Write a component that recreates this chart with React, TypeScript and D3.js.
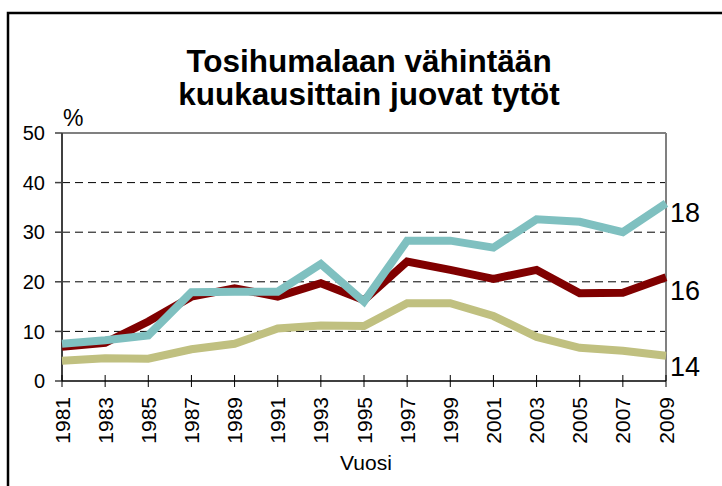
import React from "react";
import * as d3 from "d3";

const years = [1981, 1983, 1985, 1987, 1989, 1991, 1993, 1995, 1997, 1999, 2001, 2003, 2005, 2007, 2009];
const seriesRed = [6.9, 7.7, 12.0, 17.0, 18.7, 17.0, 19.7, 16.3, 24.1, 22.4, 20.6, 22.4, 17.7, 17.8, 20.9];
const seriesTeal = [7.5, 8.2, 9.2, 17.9, 18.0, 18.0, 23.6, 16.0, 28.3, 28.3, 26.9, 32.6, 32.1, 30.0, 35.8];
const seriesKhaki = [4.1, 4.6, 4.5, 6.4, 7.5, 10.6, 11.2, 11.1, 15.7, 15.7, 13.1, 8.9, 6.7, 6.1, 5.1];
const yTicks = [0, 10, 20, 30, 40, 50];
const gridTicks = [10, 20, 30, 40];
const rightLabels = [
  { text: "18", value: 34.0 },
  { text: "16", value: 18.3 },
  { text: "14", value: 2.9 },
];
const titleLines = ["Tosihumalaan vähintään", "kuukausittain juovat tytöt"];

export default function App() {
  const W = 722, H = 486;
  const left = 62, right = 666, top = 133, bottom = 381;
  const x = d3.scaleLinear().domain([1981, 2009]).range([left, right]);
  const y = d3.scaleLinear().domain([0, 50]).range([bottom, top]);
  const line = d3
    .line<number>()
    .x((_, i) => x(years[i]))
    .y((d) => y(d));
  const font = "'Liberation Sans', Arial, sans-serif";
  const series = [
    { data: seriesKhaki, color: "#c0c080" },
    { data: seriesRed, color: "#800000" },
    { data: seriesTeal, color: "#7fc0c0" },
  ];
  return (
    <svg
      width={W}
      height={H}
      style={{ position: "absolute", left: 0, top: 0, background: "#fff" }}
      fontFamily={font}
    >
      <rect x={0} y={0} width={W} height={H} fill="#fff" />
      <rect x={8} y={13} width={W + 20} height={H + 20} fill="none" stroke="#000" strokeWidth={2.5} />
      {titleLines.map((t, i) => (
        <text key={t} x={369} y={72 + i * 33} textAnchor="middle" fontSize={31.5} fontWeight="bold" fill="#000">
          {t}
        </text>
      ))}
      <text x={63} y={126} fontSize={23} fill="#000">%</text>
      {gridTicks.map((v) => (
        <line key={v} x1={left} x2={right} y1={y(v)} y2={y(v)} stroke="#000" strokeWidth={1} strokeDasharray="8,5" />
      ))}
      {/* plot border top & right */}
      <line x1={left} x2={right} y1={top} y2={top} stroke="#808080" strokeWidth={2} />
      <line x1={right} x2={right} y1={top} y2={bottom} stroke="#808080" strokeWidth={2} />
      {/* left axis */}
      <line x1={left} x2={left} y1={top} y2={bottom} stroke="#404040" strokeWidth={2} />
      {yTicks.map((v) => (
        <g key={v}>
          <line x1={left - 7} x2={left} y1={y(v)} y2={y(v)} stroke="#404040" strokeWidth={1.5} />
          <text x={45} y={y(v)} dy="0.36em" textAnchor="end" fontSize={20} fill="#000">
            {v}
          </text>
        </g>
      ))}
      {series.map((s, i) => (
        <path
          key={i}
          d={line(s.data) || ""}
          fill="none"
          stroke={s.color}
          strokeWidth={8}
          strokeLinejoin="miter"
          strokeLinecap="butt"
        />
      ))}
      {/* bottom axis */}
      <line x1={left} x2={right} y1={bottom} y2={bottom} stroke="#000" strokeWidth={1.5} />
      {years.map((yr) => (
        <g key={yr}>
          <line x1={x(yr)} x2={x(yr)} y1={bottom - 6} y2={bottom + 6} stroke="#000" strokeWidth={1} />
          <text
            transform={`translate(${x(yr)},397) rotate(-90)`}
            dy="0.36em"
            textAnchor="end"
            fontSize={21}
            fill="#000"
          >
            {yr}
          </text>
        </g>
      ))}
      <text x={366} y={470} textAnchor="middle" fontSize={21} fill="#000">Vuosi</text>
      {rightLabels.map((l) => (
        <text key={l.text} x={670} y={y(l.value)} dy="0.36em" fontSize={27} fill="#000">
          {l.text}
        </text>
      ))}
    </svg>
  );
}
